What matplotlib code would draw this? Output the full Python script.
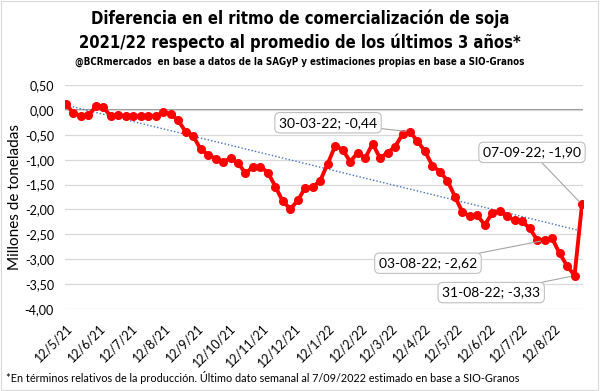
import matplotlib
matplotlib.use("Agg")
import matplotlib.pyplot as plt
import matplotlib.dates as mdates
from matplotlib import font_manager
from matplotlib.patches import Rectangle
import numpy as np
import pandas as pd

# ---------------- data ----------------
start_date = "2021-05-12"
n_weeks = 70
values = [0.12, -0.07, -0.12, -0.11, 0.07, 0.05, -0.13, -0.10, -0.13, -0.12,
          -0.13, -0.12, -0.13, -0.05, -0.08, -0.21, -0.44, -0.52, -0.79, -0.90,
          -0.98, -1.05, -0.97, -1.07, -1.27, -1.15, -1.14, -1.26, -1.54, -1.84,
          -1.99, -1.82, -1.56, -1.55, -1.42, -1.08, -0.72, -0.80, -1.04, -0.86,
          -0.97, -0.68, -0.97, -0.86, -0.74, -0.49, -0.44, -0.63, -0.83, -1.12,
          -1.24, -1.42, -1.74, -2.05, -2.14, -2.12, -2.31, -2.07, -2.04, -2.14,
          -2.22, -2.24, -2.38, -2.61, -2.62, -2.58, -2.88, -3.13, -3.33, -1.90]
dates = pd.date_range(start_date, periods=n_weeks, freq="7D")
tick_dates = pd.date_range("2021-05-01", "2022-08-01", freq="MS") + pd.Timedelta(days=11)
y_ticks = [0.5, 0.0, -0.5, -1.0, -1.5, -2.0, -2.5, -3.0, -3.5, -4.0]

title1 = "Diferencia en el ritmo de comercialización de soja"
title2 = "2021/22 respecto al promedio de los últimos 3 años*"
subtitle = "@BCRmercados  en base a datos de la SAGyP y estimaciones propias en base a SIO-Granos"
footnote = "*En términos relativos de la producción. Último dato semanal al 7/09/2022 estimado en base a SIO-Granos"
ylabel = "Millones de toneladas"

# annotated points: (index, label, offset in points)
annotations = [(46, "30-03-22; -0,44", (-59, 6.5)),
               (69, "07-09-22; -1,90", (-36, 37.5)),
               (64, "03-08-22; -2,62", (-84, -16.5)),
               (68, "31-08-22; -3,33", (-60, -12.2))]

# ---------------- fonts ----------------
names = {f.name for f in font_manager.fontManager.ttflist}
cond_dejavu = any(f.name == "DejaVu Sans" and f.stretch in ("condensed", "semi-condensed", 300, 400)
                  for f in font_manager.fontManager.ttflist)
if "Liberation Sans Narrow" in names:
    title_font = dict(family="Liberation Sans Narrow", fontweight="bold")
elif cond_dejavu:
    title_font = dict(family="DejaVu Sans", fontstretch="condensed", fontweight="bold")
elif "Roboto" in names:
    title_font = dict(family="Roboto", fontweight="bold")
else:
    title_font = dict(family="DejaVu Sans", fontweight="bold")
body = "Lato" if "Lato" in names else "DejaVu Sans"
plt.rcParams["font.family"] = [body, "DejaVu Sans"]

# ---------------- figure ----------------
fig = plt.figure(figsize=(6.0, 3.91), dpi=100)
fig.patch.set_facecolor("white")
ax = fig.add_axes([65/600, 1-309/391, (583-65)/600, (309-85)/391])

x = mdates.date2num(dates)
px_day = 516.0 / (x[-1] - x[0])
ax.set_xlim(x[0] - 1/px_day, x[-1] + 1/px_day)
ax.set_ylim(-4.0, 0.5)

# grid
ax.set_yticks(y_ticks)
ax.set_yticklabels([f"{v:.2f}".replace(".", ",") for v in y_ticks])
ax.grid(axis="y", color="#D9D9D9", lw=0.9, zorder=0)
ax.axhline(0, color="#7F7F7F", lw=1.2, zorder=1)
for s in ax.spines.values():
    s.set_visible(False)
ax.tick_params(axis="both", length=0, labelsize=9, colors="#000000")
ax.tick_params(axis="y", pad=8)

ax.set_xticks(mdates.date2num(tick_dates))
ax.set_xticklabels([f"{d.day}/{d.month}/{d.year % 100}" for d in tick_dates],
                   rotation=45, ha="right", rotation_mode="anchor", fontsize=9)
ax.tick_params(axis="x", pad=9)

# trend line (linear least squares, as Excel trendline)
coef = np.polyfit(x, values, 1)
ax.plot(x, np.polyval(coef, x), color="#4472C4", lw=1.0, ls=(0, (1, 1.5)), zorder=2)

# main series
ax.plot(x, values, color="#FF0000", lw=2.8, marker="o", markersize=5.5,
        markerfacecolor="#FF0000", markeredgecolor="#FF0000", zorder=3)

# annotations
for idx, lab, off in annotations:
    ax.annotate(lab, xy=(x[idx], values[idx]), xytext=off, textcoords="offset points",
                ha="center", va="center", fontsize=10,
                bbox=dict(boxstyle="round,pad=0.3,rounding_size=0.35", fc="white",
                          ec="#BFBFBF", lw=0.8),
                arrowprops=dict(arrowstyle="-", color="#A6A6A6", lw=0.8,
                                shrinkA=0, shrinkB=3),
                zorder=5)

ax.set_ylabel(ylabel, fontsize=11, labelpad=6)
ax.yaxis.set_label_coords(-0.083, 0.5)

# titles (font size fitted to the reference text widths)
t1 = fig.text(0.5, 1-19/391, title1, ha="center", va="center", fontsize=14, **title_font)
t2 = fig.text(0.5, 1-43/391, title2, ha="center", va="center", fontsize=14, **title_font)
t3 = fig.text(0.5, 1-62/391, subtitle, ha="center", va="center", fontsize=8, **title_font)
fn = fig.text(6/600, 1-378/391, footnote, ha="left", va="center", fontsize=8)

fig.canvas.draw()
r = fig.canvas.get_renderer()
w1 = t1.get_window_extent(r).width
fs_t = 14 * 422.0 / w1
t1.set_fontsize(fs_t)
t2.set_fontsize(fs_t)
w3 = t3.get_window_extent(r).width
t3.set_fontsize(8 * 452.0 / w3)
wf = fn.get_window_extent(r).width
fn.set_fontsize(8 * 514.0 / wf)

# frame
fig.add_artist(Rectangle((0.002, 0.002), 0.995, 0.995, transform=fig.transFigure,
                         fill=False, ec="#D9D9D9", lw=0.8))

fig.savefig("out.png", dpi=100, facecolor="white")
